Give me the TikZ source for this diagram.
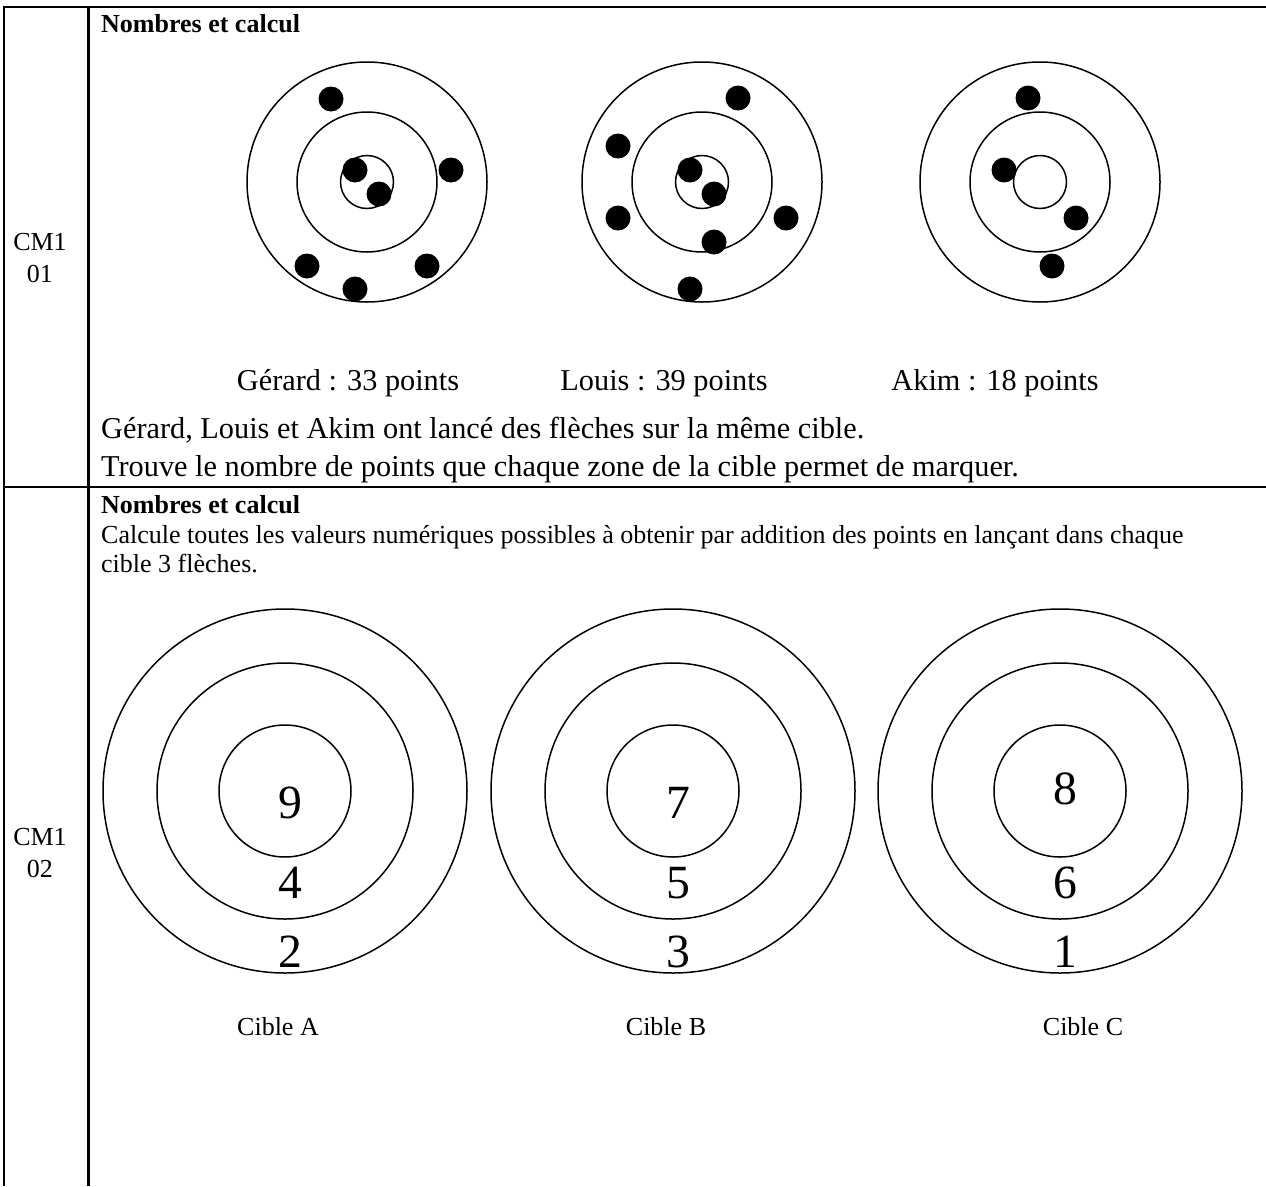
\documentclass[tikz,border=0pt]{standalone}
\usepackage{fontspec}
\setmainfont{Liberation Serif}
\begin{document}
\begin{tikzpicture}[x=1pt,y=-1pt,
  rule/.style={line width=2.2pt},
  ring/.style={line width=1.5pt},
  hit/.style={fill=black},
  txt/.style={anchor=base west,inner sep=0pt,font=\fontsize{30.3}{35}\selectfont},
  lbl/.style={anchor=base,inner sep=0pt,font=\fontsize{30.3}{35}\selectfont},
  small/.style={anchor=base west,inner sep=0pt,font=\fontsize{26}{30}\selectfont},
  head/.style={anchor=base west,inner sep=0pt,font=\fontsize{26}{30}\selectfont\bfseries},
  code/.style={anchor=base,inner sep=0pt,font=\fontsize{26}{30}\selectfont},
  score/.style={anchor=base,inner sep=0pt,font=\fontsize{47.7}{50}\selectfont}]
\useasboundingbox (0,0) rectangle (1266,1186);
% table
\draw[rule] (4,7) -- (1266,7);
\draw[rule] (4,487) -- (1266,487);
\draw[rule] (4,6) -- (4,1186);
\draw[rule] (88.5,6) -- (88.5,1186);
\node[code] (cma) at (40,250) {CM1};
\node[code] (cmb) at (40,282) {01};
\node[code] (cmc) at (40,845) {CM1};
\node[code] (cmd) at (40,877) {02};
% first exercise
\node[head] (heada) at (101,32) {Nombres et calcul};
\foreach \n/\x in {gerard/367,louis/702,akim/1040} {
  \coordinate (\n) at (\x,182);
  \draw[ring] (\n) circle[radius=120pt] (\n) circle[radius=70pt] (\n) circle[radius=26.5pt];
}
\foreach \dx/\dy in {-36/-83,-12/-12,12/12,84/-12,-60/84,60/84,-12/107}
  \fill[hit] ([shift={(\dx,\dy)}]gerard) circle[radius=12.5pt];
\foreach \dx/\dy in {36/-84,-84/-36,-84/36,-12/-12,12/12,84/36,12/60,-12/107}
  \fill[hit] ([shift={(\dx,\dy)}]louis) circle[radius=12.5pt];
\foreach \dx/\dy in {-12/-84,-36/-12,36/36,12/84}
  \fill[hit] ([shift={(\dx,\dy)}]akim) circle[radius=12.5pt];
\node[lbl] (ga) at (348,390) {Gérard : 33 points};
\node[lbl] (lo) at (664,390) {Louis : 39 points};
\node[lbl] (ak) at (995,390) {Akim : 18 points};
\node[txt] (qa) at (101,438) {Gérard, Louis et Akim ont lancé des flèches sur la même cible.};
\node[txt] (qb) at (101,476) {Trouve le nombre de points que chaque zone de la cible permet de marquer.};
% second exercise
\node[head] (headb) at (101,513) {Nombres et calcul};
\node[small] (qc) at (101,543) {Calcule toutes les valeurs numériques possibles à obtenir par addition des points en lançant dans chaque};
\node[small] (qd) at (101,572) {cible 3 flèches.};
\foreach \n/\x/\a/\b/\c/\h/\t in {cibA/285/9/4/2/818/Cible A,cibB/673/7/5/3/818/Cible B,cibC/1060/8/6/1/804/Cible C} {
  \coordinate (\n) at (\x,791);
  \draw[ring] (\n) circle[radius=182pt] (\n) circle[radius=128pt] (\n) circle[radius=66pt];
  \node[score] (\n-in) at (\x+5,\h) {\a};
  \node[score] (\n-mid) at (\x+5,898) {\b};
  \node[score] (\n-out) at (\x+5,967) {\c};
}
\node[code] (na) at (278,1035) {Cible A};
\node[code] (nb) at (666,1035) {Cible B};
\node[code] (nc) at (1083,1035) {Cible C};
\end{tikzpicture}
\end{document}
